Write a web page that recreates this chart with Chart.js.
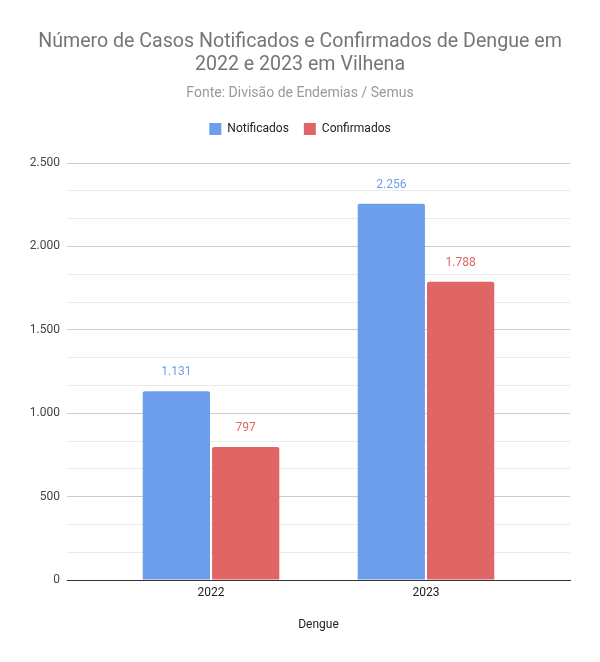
<!DOCTYPE html>
<html>
<head>
<meta charset="utf-8">
<script src="https://cdn.jsdelivr.net/npm/chart.js@4"></script>
<style>
html,body{margin:0;padding:0;background:#fff;}
#wrap{width:600px;height:662px;}
</style>
</head>
<body>
<div id="wrap"><canvas id="c" width="600" height="662"></canvas></div>
<script>
const categories = ['2022', '2023'];
const seriesNames = ['Notificados', 'Confirmados'];
const notificados = [1131, 2256];
const confirmados = [797, 1788];
const yMajorTicks = [0, 500, 1000, 1500, 2000, 2500];
const minorPerMajor = 3;

function fmt(v){
  const s = Math.round(v).toString();
  return s.replace(/\B(?=(\d{3})+(?!\d))/g, '.');
}

const blue = '#6d9eeb';
const red = '#e06666';

const bgPlugin = {
  id: 'bg',
  beforeDraw(chart){
    const ctx = chart.ctx;
    ctx.save();
    ctx.fillStyle = '#fff';
    ctx.fillRect(0,0,chart.width,chart.height);
    ctx.restore();
  }
};

const legendGapPlugin = {
  id: 'legendGap',
  beforeLayout(chart){
    const lg = chart.legend;
    if (lg && !lg._gapPatched) {
      const f = lg.fit.bind(lg);
      lg.fit = function(){ f(); this.height += 18; };
      lg._gapPatched = true;
    }
  }
};

const labelPlugin = {
  id: 'valLabels',
  afterDatasetsDraw(chart){
    const ctx = chart.ctx;
    ctx.save();
    ctx.font = '12px Roboto';
    ctx.textAlign = 'center';
    ctx.textBaseline = 'middle';
    chart.data.datasets.forEach((ds, i) => {
      const meta = chart.getDatasetMeta(i);
      meta.data.forEach((bar, j) => {
        ctx.fillStyle = ds.backgroundColor;
        ctx.fillText(fmt(ds.data[j].y), bar.x, bar.y - 19);
      });
    });
    ctx.restore();
  }
};

const yTickValues = [];
for (let i = 0; i < yMajorTicks.length - 1; i++) {
  for (let k = 0; k < minorPerMajor; k++) {
    const a = yMajorTicks[i], b = yMajorTicks[i+1];
    yTickValues.push({value: a + (b - a) * k / minorPerMajor});
  }
}
yTickValues.push({value: yMajorTicks[yMajorTicks.length-1]});

new Chart(document.getElementById('c'), {
  type: 'bar',
  data: {
    datasets: [
      {
        label: seriesNames[0],
        data: categories.map((c, i) => ({x: i + 1, y: notificados[i]})),
        backgroundColor: blue,
        borderRadius: 2,
        borderSkipped: 'start'
      },
      {
        label: seriesNames[1],
        data: categories.map((c, i) => ({x: i + 1, y: confirmados[i]})),
        backgroundColor: red,
        borderRadius: 2,
        borderSkipped: 'start'
      }
    ]
  },
  plugins: [bgPlugin, legendGapPlugin, labelPlugin],
  options: {
    responsive: false,
    animation: false,
    devicePixelRatio: 1,
    categoryPercentage: 0.645,
    barPercentage: 0.97,
    layout: {padding: 0},
    plugins: {
      tooltip: {enabled: false},
      title: {
        display: true,
        text: ['Número de Casos Notificados e Confirmados de Dengue em', '2022 e 2023 em Vilhena'],
        color: '#757575',
        font: {family: 'Roboto', size: 19.6, weight: 'normal', lineHeight: '23px'},
        padding: {top: 30.5, bottom: 8.8}
      },
      subtitle: {
        display: true,
        text: 'Fonte: Divisão de Endemias / Semus',
        color: '#999999',
        font: {family: 'Roboto', size: 14, weight: 'normal', lineHeight: '17px'},
        padding: {top: 0, bottom: 5.7}
      },
      legend: {
        position: 'top',
        labels: {
          boxWidth: 12,
          boxHeight: 12,
          color: '#222222',
          font: {family: 'Roboto', size: 12},
          padding: 15
        }
      }
    },
    scales: {
      x: {
        type: 'linear',
        offset: false,
        min: 0.33,
        max: 2.67,
        afterBuildTicks(scale){ scale.ticks = categories.map((c, i) => ({value: i + 1})); },
        afterFit(scale){ scale.height = 82; },
        ticks: {
          callback(v){ return categories[Math.round(v) - 1]; },
          color: '#222222',
          font: {family: 'Roboto', size: 12},
          padding: 6,
          maxRotation: 0,
          autoSkip: false
        },
        grid: {display: false, drawTicks: false, offset: false},
        border: {display: true, color: '#333333', width: 1},
        title: {
          display: true,
          text: 'Dengue',
          color: '#222222',
          font: {family: 'Roboto', size: 12},
          padding: {top: 0, bottom: 30}
        }
      },
      y: {
        type: 'linear',
        min: yMajorTicks[0],
        max: yMajorTicks[yMajorTicks.length - 1],
        afterBuildTicks(scale){ scale.ticks = yTickValues.map(t => ({value: t.value})); },
        afterFit(scale){ scale.width = 67; },
        ticks: {
          callback(v){
            const isMajor = yMajorTicks.some(m => Math.abs(m - v) < 1e-6);
            return isMajor ? fmt(v) : '';
          },
          color: '#444444',
          font: {family: 'Roboto', size: 12},
          padding: 7,
          autoSkip: false
        },
        grid: {
          drawTicks: false,
          color(ctx){
            const v = ctx.tick ? ctx.tick.value : 0;
            if (Math.abs(v) < 1e-6) return '#333333';
            const isMajor = yMajorTicks.some(m => Math.abs(m - v) < 1e-6);
            return isMajor ? '#cccccc' : '#ebebeb';
          }
        },
        border: {display: false}
      },
      yR: {
        type: 'linear',
        position: 'right',
        display: true,
        afterFit(scale){ scale.width = 30; },
        ticks: {display: false},
        grid: {display: false, drawTicks: false},
        border: {display: false}
      }
    }
  }
});
</script>
</body>
</html>
